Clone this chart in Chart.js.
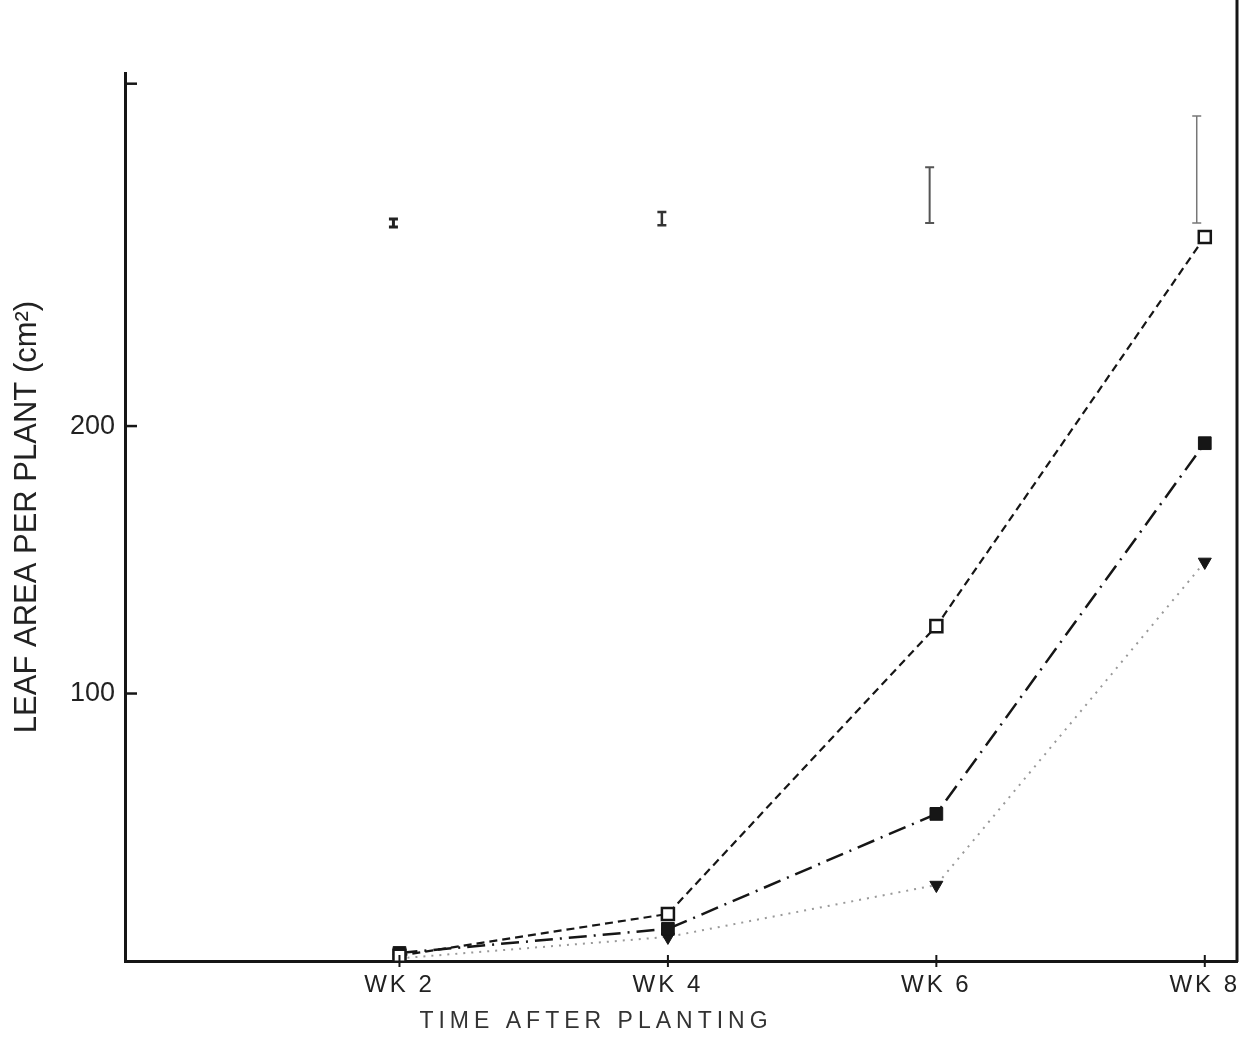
<!DOCTYPE html>
<html>
<head>
<meta charset="utf-8">
<script src="https://cdn.jsdelivr.net/npm/chart.js@4/dist/chart.umd.min.js"></script>
<style>
  html, body { margin: 0; padding: 0; background: #fff; }
  #wrap { width: 1254px; height: 1038px; }
</style>
</head>
<body>
<div id="wrap"><canvas id="leafChart" width="1254" height="1038"></canvas></div>
<script>
// weeks after planting
const weeks = [2, 4, 6, 8];
const weekLabels = ['WK 2', 'WK 4', 'WK 6', 'WK 8'];

// leaf area per plant, cm2
const openSquare = [2, 17.6, 125.2, 270.7];
const filledSquare = [3, 12, 55, 193.6];
const filledTriangle = [1, 9, 28.4, 149.2];

// LSD bars along the top
const lsdX = [1.955, 3.955, 5.95, 7.94];
const lsdLow = [274.4, 275.1, 275.9, 275.9];
const lsdHigh = [277.4, 280, 296.8, 315.9];

const yTickValues = [100, 200, 328];
const yTickLabels = ['100', '200', ''];

const ink = '#161616';

function points(values) {
    return weeks.map((w, i) => ({ x: w, y: values[i] }));
}

// x labels get wide letter spacing; the y axis layers (z:1) are drawn after the datasets without it
const spacing = {
    id: 'spacing',
    beforeDraw(chart) { chart.ctx.letterSpacing = '3px'; },
    beforeDatasetsDraw(chart) { chart.ctx.letterSpacing = '0px'; }
};

const frame = {
    id: 'frame',
    afterDraw(chart) {
        const ctx = chart.ctx;
        const x = chart.scales.x, y = chart.scales.y;
        const area = chart.chartArea;
        ctx.save();
        ctx.strokeStyle = ink;

        // right border runs to the top edge
        ctx.lineWidth = 3;
        ctx.beginPath();
        ctx.moveTo(area.right, 0);
        ctx.lineTo(area.right, area.bottom + 1);
        ctx.stroke();

        // inward y ticks
        ctx.lineWidth = 2.5;
        yTickValues.forEach(v => {
            const py = y.getPixelForValue(v);
            ctx.beginPath();
            ctx.moveTo(area.left, py);
            ctx.lineTo(area.left + 12, py);
            ctx.stroke();
        });

        // small crossing x ticks
        ctx.lineWidth = 2;
        weeks.forEach(w => {
            const px = x.getPixelForValue(w);
            ctx.beginPath();
            ctx.moveTo(px, area.bottom - 6);
            ctx.lineTo(px, area.bottom + 6);
            ctx.stroke();
        });

        // LSD bars
        const widths = [3, 2.5, 2, 1.5];
        const colors = ['#222', '#333', '#555', '#777'];
        lsdX.forEach((v, i) => {
            const px = x.getPixelForValue(v);
            const y1 = y.getPixelForValue(lsdLow[i]);
            const y2 = y.getPixelForValue(lsdHigh[i]);
            ctx.strokeStyle = colors[i];
            ctx.lineWidth = widths[i];
            ctx.beginPath();
            ctx.moveTo(px, y1); ctx.lineTo(px, y2);
            ctx.moveTo(px - 4.5, y1); ctx.lineTo(px + 4.5, y1);
            ctx.moveTo(px - 4.5, y2); ctx.lineTo(px + 4.5, y2);
            ctx.stroke();
        });

        // x axis title, off centre and spaced out
        ctx.fillStyle = '#333';
        ctx.font = '23px "Liberation Sans", Arial, sans-serif';
        ctx.letterSpacing = '5px';
        ctx.textAlign = 'center';
        ctx.textBaseline = 'alphabetic';
        ctx.fillText('TIME AFTER PLANTING', 596, 1028);
        ctx.restore();
    }
};

new Chart(document.getElementById('leafChart'), {
    type: 'line',
    data: {
        datasets: [
            {
                data: points(openSquare),
                borderColor: ink, borderWidth: 2.2, borderDash: [8, 5],
                pointStyle: 'rect', pointRadius: 8.5,
                pointBackgroundColor: '#fff', pointBorderColor: ink, pointBorderWidth: 2.5
            },
            {
                data: points(filledSquare),
                borderColor: ink, borderWidth: 2.5, borderDash: [18, 7, 2, 7],
                pointStyle: 'rect', pointRadius: 9,
                pointBackgroundColor: ink, pointBorderColor: ink, pointBorderWidth: 1
            },
            {
                data: points(filledTriangle),
                borderColor: '#999', borderWidth: 2, borderDash: [2, 6],
                pointStyle: 'triangle', pointRotation: 180, pointRadius: 7.5,
                pointBackgroundColor: ink, pointBorderColor: ink, pointBorderWidth: 1
            }
        ]
    },
    options: {
        responsive: false,
        animation: false,
        events: [],
        layout: { padding: { top: 73, right: 17, left: 6, bottom: 0 } },
        plugins: { legend: { display: false }, tooltip: { enabled: false } },
        scales: {
            x: {
                type: 'linear',
                min: -0.045,
                max: 8.24,
                afterBuildTicks: s => { s.ticks = weeks.map(v => ({ value: v })); },
                afterFit: s => { s.height = 77; },
                grid: { display: false, drawTicks: false },
                border: { color: ink, width: 3 },
                ticks: {
                    padding: 10,
                    color: '#222',
                    font: { family: '"Liberation Sans", Arial, sans-serif', size: 24 },
                    callback: v => weekLabels[weeks.indexOf(v)],
                    maxRotation: 0
                }
            },
            y: {
                min: 0,
                max: 332,
                afterBuildTicks: s => { s.ticks = yTickValues.map(v => ({ value: v })); },
                afterFit: s => { s.width = 119; },
                grid: { display: false, drawTicks: false, z: 1 },
                border: { color: ink, width: 3, z: 1 },
                ticks: {
                    z: 1,
                    padding: 10,
                    color: '#222',
                    font: { family: '"Liberation Sans", Arial, sans-serif', size: 27 },
                    callback: v => yTickLabels[yTickValues.indexOf(v)]
                },
                title: {
                    display: true,
                    text: 'LEAF AREA PER PLANT (cm²)',
                    color: '#222',
                    font: { family: '"Liberation Sans", Arial, sans-serif', size: 31 },
                    padding: { top: 3, bottom: 0 }
                }
            }
        }
    },
    plugins: [spacing, frame]
});
</script>
</body>
</html>
